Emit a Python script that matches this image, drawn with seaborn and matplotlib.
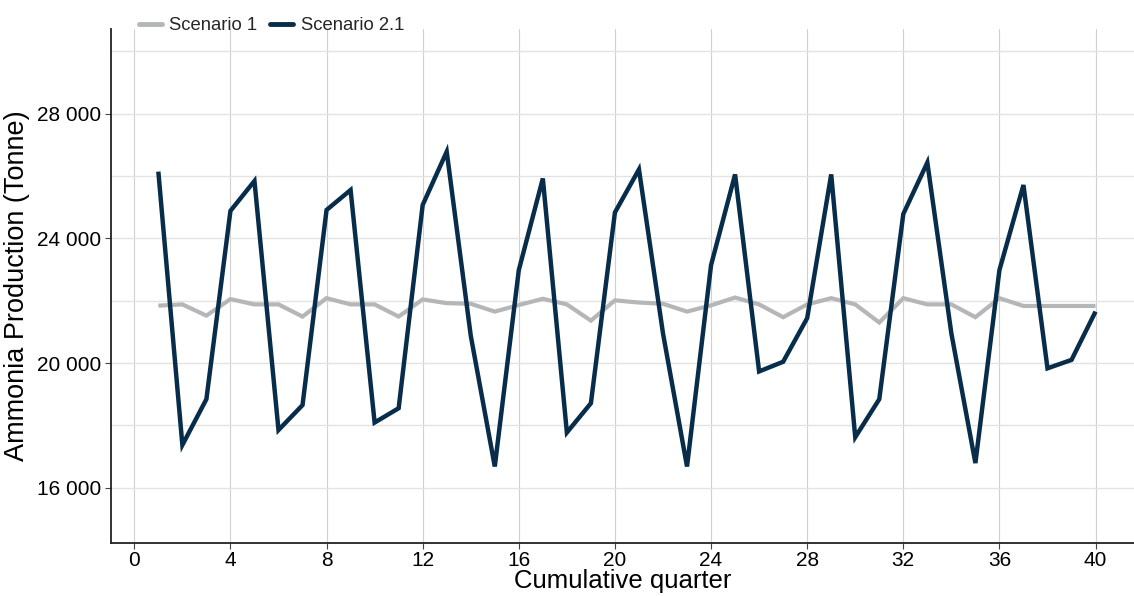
import numpy as np
import pandas as pd
import matplotlib
matplotlib.use("Agg")
import matplotlib.pyplot as plt
import matplotlib.ticker as mticker
import seaborn as sns

quarters = list(range(1, 41))
scenario_1 = [21840, 21880, 21520, 22050, 21880, 21880, 21490, 22080, 21880, 21880,
              21490, 22040, 21920, 21900, 21650, 21860, 22060, 21880, 21360, 22010,
              21940, 21900, 21650, 21850, 22100, 21880, 21470, 21880, 22080, 21880,
              21300, 22080, 21880, 21880, 21470, 22080, 21830, 21830, 21830, 21830]
scenario_2_1 = [26140, 17370, 18840, 24880, 25840, 17850, 18650, 24910, 25550, 18090,
                18550, 25070, 26780, 20880, 16680, 22980, 25920, 17770, 18710, 24830,
                26210, 20950, 16680, 23140, 26050, 19730, 20040, 21440, 26050, 17620,
                18840, 24780, 26430, 20950, 16790, 22980, 25710, 19830, 20100, 21650]
series_names = ["Scenario 1", "Scenario 2.1"]
colors = ["#b4b6b8", "#082d4b"]
x_ticks = list(range(0, 41, 4))
y_ticks = [16000, 20000, 24000, 28000]

df = pd.DataFrame({
    "quarter": quarters * 2,
    "value": scenario_1 + scenario_2_1,
    "scenario": [series_names[0]] * 40 + [series_names[1]] * 40,
})

sns.set_theme(style="white")
plt.rcParams["font.family"] = ["Liberation Sans", "DejaVu Sans"]

fig = plt.figure(figsize=(11.34, 5.96), dpi=100)
ax = fig.add_axes([111 / 1134, 53 / 596, 1 - 111 / 1134, (543 - 29) / 596])

sns.lineplot(data=df, x="quarter", y="value", hue="scenario",
             palette=dict(zip(series_names, colors)), ax=ax, legend=True)
for line, lw in zip(ax.get_lines(), [3.0, 3.2]):
    line.set_linewidth(lw)
    line.set_solid_capstyle("butt")
    line.set_solid_joinstyle("miter")

ax.set_xlim(-0.97, 41.6)
ax.set_ylim(14226, 30715)
ax.set_xticks(x_ticks)
ax.set_yticks(y_ticks)
ax.yaxis.set_major_formatter(mticker.FuncFormatter(lambda v, p: f"{int(v):,}".replace(",", " ")))

ax.grid(False)
for v in x_ticks:
    ax.axvline(v, color="#d0d0d0", lw=0.8, zorder=0)
for v in np.arange(16000, 30001, 2000):
    ax.axhline(v, color="#e3e3e3", lw=1.0, zorder=0)

for s in ["top", "right"]:
    ax.spines[s].set_visible(False)
for s in ["left", "bottom"]:
    ax.spines[s].set_color("#222222")
    ax.spines[s].set_linewidth(1.3)

ax.tick_params(axis="both", which="major", length=4, width=0.8, color="#444444",
               labelsize=15, labelcolor="#000000", left=True, bottom=True, pad=3)
ax.tick_params(axis="x", pad=2)

ax.set_xlabel("Cumulative quarter", fontsize=18.5, labelpad=-1, color="#000000")
ax.set_ylabel("Ammonia Production (Tonne)", fontsize=19.5, labelpad=5, color="#000000")

ax.legend(loc="lower left", bbox_to_anchor=(0.02, 0.975), ncol=2, frameon=False,
          fontsize=13.3, handlelength=1.25, columnspacing=0.7, handletextpad=0.4,
          borderaxespad=0.0)
for lh in ax.get_legend().get_lines():
    lh.set_linewidth(3.5)

fig.savefig("out.png", dpi=100)
